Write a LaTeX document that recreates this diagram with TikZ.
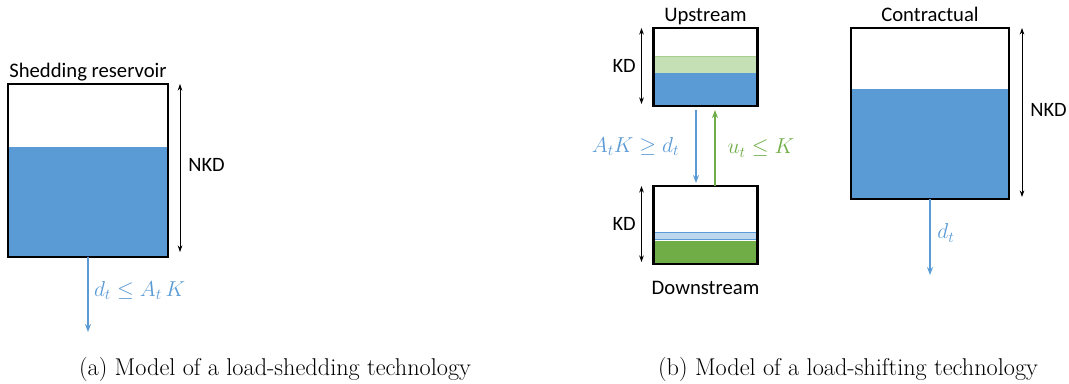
\RequirePackage{fix-cm}
\documentclass[tikz,border=0pt]{standalone}
\usepackage{fontspec}
\newfontfamily\calibri{Carlito}
\usepackage{xcolor}
\usetikzlibrary{arrows.meta,positioning,calc,backgrounds}

\definecolor{waterblue}{RGB}{91,155,213}
\definecolor{shiftgreen}{RGB}{112,173,71}
\definecolor{lightgreen}{RGB}{197,224,180}
\definecolor{lightblue}{RGB}{189,215,238}

\tikzset{
  tank/.style={draw, line width=1.6pt, inner sep=0pt, outer sep=0pt},
  title/.style={font=\calibri\fontsize{15.5}{17}\selectfont, inner sep=0pt, text depth=0.25em},
  lbl/.style={font=\calibri\fontsize{15.3}{17}\selectfont, inner sep=0pt},
  mathlbl/.style={font=\fontsize{16.2}{19}\selectfont, inner sep=0pt},
  flow/.style={line width=1pt, -{Stealth[length=6pt,width=4.5pt]}},
  level/.style={line width=0.6pt, {Stealth[length=5pt,width=3.5pt]}-{Stealth[length=5pt,width=3.5pt]}},
  caption/.style={font=\fontsize{18.2}{21}\selectfont, inner sep=0pt}
}

\begin{document}
\begin{tikzpicture}[x=0.75pt, y=-0.75pt]
  \useasboundingbox (0,0) rectangle (1069,383);

  % (a) load shedding
  \node[tank, minimum width=120pt, minimum height=129.75pt] (shed) at (88,170.5) {};
  \node[title, above=2pt of shed] (shedtitle) {Shedding reservoir};
  \begin{scope}[on background layer]
    \fill[waterblue] ($(shed.north west)!0.364!(shed.south west)$) rectangle (shed.south east);
  \end{scope}
  \draw[level] ($(shed.north east)+(12,0)$) -- ($(shed.south east)+(12,-5)$)
    node[midway, right=6pt, lbl, yshift=2pt] {NKD};
  \coordinate (shedout) at (88,332);
  \draw[flow, waterblue] (shed.south) -- (shedout)
    node[midway, right=4pt, mathlbl, yshift=3pt] {$d_t \leq A_t\,K$};

  % (b) load shifting
  \node[tank, minimum width=78pt, minimum height=58.5pt] (up) at (705.5,67) {};
  \node[tank, minimum width=78pt, minimum height=58.5pt] (down) at (705.5,225) {};
  \node[tank, minimum width=118.5pt, minimum height=128.25pt] (contract) at (930,113.5) {};
  \node[title, above=2.5pt of up] (uptitle) {Upstream};
  \node[title, above=2.5pt of contract] (contracttitle) {Contractual};
  \node[title, below=13pt of down] (downtitle) {Downstream};

  \begin{scope}[on background layer]
    \filldraw[fill=lightgreen, draw=shiftgreen!60, line width=0.5pt]
      ($(up.north west)!0.36!(up.south west)$) rectangle ($(up.north east)!0.577!(up.south east)$);
    \fill[waterblue] ($(up.north west)!0.577!(up.south west)$) rectangle (up.south east);
    \filldraw[fill=lightblue, draw=waterblue, line width=0.5pt]
      ($(down.north west)!0.60!(down.south west)$) rectangle ($(down.north east)!0.69!(down.south east)$);
    \fill[shiftgreen] ($(down.north west)!0.705!(down.south west)$) rectangle (down.south east);
    \fill[waterblue] ($(contract.north west)!0.357!(contract.south west)$) rectangle (contract.south east);
  \end{scope}

  \draw[level] ($(up.north west)+(-12,0)$) -- ($(up.south west)+(-12,-2)$)
    node[midway, left=4pt, lbl] {KD};
  \draw[level] ($(down.north west)+(-12,0)$) -- ($(down.south west)+(-12,-2)$)
    node[midway, left=4pt, lbl] {KD};
  \draw[level] ($(contract.north east)+(13,0)$) -- ($(contract.south east)+(13,-2)$)
    node[midway, right=6pt, lbl, yshift=2pt] {NKD};

  \draw[flow, waterblue] ($(up.south)+(-9.5,4)$) -- ($(down.north)+(-9.5,-3)$)
    node[midway, left=12pt, mathlbl] {$A_tK \geq d_t$};
  \draw[flow, shiftgreen] ($(down.north)+(9.5,0)$) -- ($(up.south)+(9.5,4)$)
    node[midway, right=9pt, mathlbl] {$u_t \leq K$};
  \coordinate (contractout) at (930,275);
  \draw[flow, waterblue] (contract.south) -- (contractout)
    node[midway, right=5pt, mathlbl, yshift=3pt] {$d_t$};

  % captions
  \node[caption] (capa) at (275,369) {(a) Model of a load-shedding technology};
  \node[caption] (capb) at (848,369) {(b) Model of a load-shifting technology};
\end{tikzpicture}
\end{document}
